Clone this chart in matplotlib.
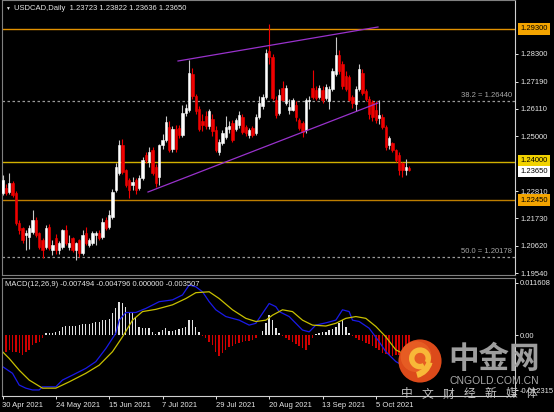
"""USDCAD daily candles with MACD pane, MetaTrader-style dark chart."""

import matplotlib
matplotlib.use("Agg")
import matplotlib.pyplot as plt
import numpy as np
from matplotlib.patches import Circle, Wedge
from matplotlib.transforms import blended_transform_factory

plt.rcParams["font.family"] = ["Liberation Sans", "DejaVu Sans"]

W, H = 554, 412

DATES = ["30 Apr 2021", "24 May 2021", "15 Jun 2021", "7 Jul 2021",
         "29 Jul 2021", "20 Aug 2021", "13 Sep 2021", "5 Oct 2021"]
DATE_BARS = [0, 16, 32, 48, 64, 80, 96, 112]

OPEN = [1.2274, 1.2294, 1.2278, 1.2314, 1.2274, 1.2154, 1.2134, 1.2106, 1.2098, 1.2118,
        1.2166, 1.2114, 1.2086, 1.2058, 1.2138, 1.2046, 1.2094, 1.2046, 1.2058, 1.2126,
        1.2058, 1.2094, 1.2046, 1.2086, 1.2034, 1.2114, 1.2066, 1.2074, 1.2106, 1.2114,
        1.2098, 1.2166, 1.2138, 1.2178, 1.2286, 1.2354, 1.2466, 1.2366, 1.2326, 1.2306,
        1.2326, 1.2294, 1.2334, 1.2426, 1.2398, 1.2446, 1.2378, 1.2338, 1.2466, 1.2486,
        1.2538, 1.2450, 1.2530, 1.2534, 1.2506, 1.2594, 1.2606, 1.2750, 1.2660, 1.2610,
        1.2560, 1.2580, 1.2540, 1.2570, 1.2526, 1.2438, 1.2475, 1.2498, 1.2530, 1.2554,
        1.2530, 1.2546, 1.2578, 1.2538, 1.2506, 1.2534, 1.2514, 1.2578, 1.2620, 1.2658,
        1.2840, 1.2818, 1.2646, 1.2594, 1.2694, 1.2634, 1.2606, 1.2606, 1.2626, 1.2566,
        1.2554, 1.2526, 1.2640, 1.2694, 1.2686, 1.2658, 1.2686, 1.2654, 1.2640, 1.2690,
        1.2750, 1.2826, 1.2790, 1.2740, 1.2738, 1.2658, 1.2630, 1.2690, 1.2754, 1.2680,
        1.2650, 1.2638, 1.2606, 1.2572, 1.2578, 1.2538, 1.2466, 1.2474, 1.2446, 1.2426,
        1.2394, 1.2366, 1.23723]
HIGH = [1.2346, 1.2310, 1.2355, 1.2322, 1.2282, 1.2166, 1.2140, 1.2126, 1.2146, 1.2206,
        1.2180, 1.2120, 1.2095, 1.2146, 1.2150, 1.2086, 1.2110, 1.2082, 1.2130, 1.2146,
        1.2106, 1.2100, 1.2080, 1.2090, 1.2126, 1.2140, 1.2094, 1.2122, 1.2122, 1.2126,
        1.2174, 1.2178, 1.2206, 1.2290, 1.2395, 1.2486, 1.2490, 1.2370, 1.2335, 1.2340,
        1.2334, 1.2346, 1.2420, 1.2440, 1.2460, 1.2458, 1.2390, 1.2470, 1.2510, 1.2580,
        1.2560, 1.2540, 1.2545, 1.2545, 1.2626, 1.2630, 1.2806, 1.2775, 1.2670, 1.2620,
        1.2590, 1.2600, 1.2610, 1.2590, 1.2540, 1.2490, 1.2525, 1.2580, 1.2560, 1.2565,
        1.2575, 1.2600, 1.2590, 1.2545, 1.2535, 1.2540, 1.2590, 1.2660, 1.2670, 1.2850,
        1.2950, 1.2830, 1.2660, 1.2690, 1.2720, 1.2705, 1.2650, 1.2655, 1.2640, 1.2575,
        1.2560, 1.2655, 1.2660, 1.2766, 1.2700, 1.2706, 1.2700, 1.2710, 1.2700, 1.2775,
        1.2898, 1.2846, 1.2800, 1.2760, 1.2745, 1.2665, 1.2700, 1.2790, 1.2770, 1.2690,
        1.2660, 1.2648, 1.2640, 1.2646, 1.2590, 1.2545, 1.2500, 1.2480, 1.2450, 1.2440,
        1.2400, 1.2410, 1.23822]
LOW = [1.2266, 1.2266, 1.2270, 1.2258, 1.2146, 1.2110, 1.2075, 1.2046, 1.2050, 1.2110,
       1.2100, 1.2050, 1.2016, 1.2050, 1.2046, 1.2026, 1.2030, 1.2030, 1.2050, 1.2066,
       1.2046, 1.2040, 1.2006, 1.2020, 1.2026, 1.2066, 1.2058, 1.2066, 1.2066, 1.2086,
       1.2090, 1.2126, 1.2130, 1.2170, 1.2280, 1.2346, 1.2350, 1.2300, 1.2254, 1.2286,
       1.2270, 1.2286, 1.2328, 1.2395, 1.2380, 1.2346, 1.2300, 1.2306, 1.2450, 1.2480,
       1.2440, 1.2440, 1.2440, 1.2495, 1.2498, 1.2580, 1.2598, 1.2650, 1.2590, 1.2520,
       1.2520, 1.2530, 1.2530, 1.2500, 1.2440, 1.2426, 1.2465, 1.2490, 1.2515, 1.2478,
       1.2520, 1.2535, 1.2510, 1.2500, 1.2495, 1.2498, 1.2505, 1.2570, 1.2610, 1.2650,
       1.2790, 1.2645, 1.2575, 1.2585, 1.2640, 1.2625, 1.2590, 1.2600, 1.2560, 1.2525,
       1.2498, 1.2515, 1.2610, 1.2650, 1.2645, 1.2650, 1.2635, 1.2645, 1.2610, 1.2680,
       1.2740, 1.2750, 1.2690, 1.2680, 1.2640, 1.2615, 1.2600, 1.2680, 1.2665, 1.2640,
       1.2570, 1.2560, 1.2555, 1.2550, 1.2530, 1.2445, 1.2450, 1.2440, 1.2400, 1.2345,
       1.2338, 1.2346, 1.23636]
CLOSE = [1.2326, 1.2274, 1.2314, 1.2266, 1.2154, 1.2126, 1.2086, 1.2114, 1.2134, 1.2166,
         1.2106, 1.2058, 1.2046, 1.2134, 1.2054, 1.2066, 1.2046, 1.2074, 1.2126, 1.2074,
         1.2074, 1.2046, 1.2074, 1.2034, 1.2106, 1.2074, 1.2086, 1.2114, 1.2114, 1.2094,
         1.2158, 1.2134, 1.2186, 1.2278, 1.2378, 1.2466, 1.2358, 1.2306, 1.2286, 1.2318,
         1.2286, 1.2334, 1.2406, 1.2406, 1.2438, 1.2354, 1.2314, 1.2466, 1.2486, 1.2558,
         1.2446, 1.2530, 1.2450, 1.2506, 1.2594, 1.2614, 1.2754, 1.2660, 1.2600, 1.2530,
         1.2545, 1.2540, 1.2600, 1.2520, 1.2446, 1.2478, 1.2514, 1.2538, 1.2542, 1.2486,
         1.2566, 1.2586, 1.2518, 1.2514, 1.2526, 1.2506, 1.2578, 1.2634, 1.2658, 1.2834,
         1.2818, 1.2654, 1.2586, 1.2666, 1.2646, 1.2694, 1.2618, 1.2646, 1.2578, 1.2534,
         1.2518, 1.2646, 1.2646, 1.2658, 1.2654, 1.2694, 1.2646, 1.2698, 1.2690, 1.2760,
         1.2826, 1.2760, 1.2700, 1.2690, 1.2646, 1.2634, 1.2690, 1.2770, 1.2674, 1.2650,
         1.2590, 1.2578, 1.2566, 1.2586, 1.2538, 1.2458, 1.2494, 1.2446, 1.2406, 1.2366,
         1.2366, 1.2376, 1.23650]

# MACD pane, values in units of 1e-3
HIST = [-4.07, -3.70, -3.33, -3.70, -3.70, -4.07, -4.44, -3.70, -3.33, -2.22,
        -1.85, -1.48, -0.74, 0.37, 0.52, 0.52, 0.74, 0.96, 1.70, 2.00,
        2.07, 2.07, 2.00, 2.15, 2.37, 2.37, 2.44, 2.59, 2.81, 2.96,
        3.33, 3.33, 3.48, 4.81, 5.92, 7.40, 7.03, 6.29, 5.18, 4.81,
        4.07, 1.85, 1.48, 1.48, 1.63, 0.74, 0.15, 0.74, 1.11, 1.48,
        0.89, 0.89, 1.11, 1.26, 1.48, 1.85, 3.33, 3.33, 1.85, 0.74,
        -0.22, -0.74, -1.48, -2.22, -3.70, -4.66, -4.07, -3.33, -2.74, -2.44,
        -2.00, -1.70, -1.48, -1.33, -1.26, -1.11, -0.74, 0.10, 0.96, 2.59,
        4.44, 3.33, 1.48, 0.37, -0.22, -0.74, -1.11, -1.48, -2.00, -2.44,
        -2.96, -3.33, -2.22, -0.74, 0.22, 0.52, 0.74, 0.74, 1.11, 1.26,
        1.85, 2.59, 3.33, 1.85, 0.52, -0.22, -0.74, -1.11, -1.26, -1.70,
        -2.00, -2.44, -2.96, -3.33, -3.92, -4.22, -4.44, -4.66, -4.44, -4.44,
        -4.44, -4.44, -3.51]
MACD_BARS = [0, 3, 5, 7, 9, 11, 12, 16, 18, 21, 25, 28, 31, 34, 35, 37, 40, 43, 47, 51,
             54, 56, 58, 60, 62, 64, 67, 71, 74, 76, 78, 80, 82, 83, 86, 88, 90, 92, 94,
             97, 100, 102, 104, 105, 107, 110, 113, 115, 118, 122]
MACD_VALS = [-7.0, -8.5, -11.1, -11.8, -12.2, -12.2, -11.5, -11.5, -10.0, -8.9, -7.4,
             -5.9, -3.0, 0.4, 3.3, 5.0, 5.0, 5.9, 7.4, 7.8, 8.9, 11.1, 10.7, 9.6, 7.4,
             5.6, 4.1, 3.3, 2.2, 2.6, 4.8, 7.0, 6.3, 5.2, 4.1, 2.6, 1.1, 0.7, 2.2, 2.7,
             3.3, 5.6, 5.2, 3.3, 3.0, 1.5, -1.5, -3.7, -5.9, -7.49]
SIGNAL_BARS = [0, 2, 5, 8, 12, 16, 20, 25, 29, 33, 36, 39, 42, 46, 51, 55, 58, 62, 65,
               69, 73, 76, 79, 81, 84, 87, 90, 93, 97, 100, 103, 106, 109, 112, 115, 118,
               122]
SIGNAL_VALS = [-3.7, -5.2, -7.8, -10.0, -11.8, -11.8, -10.4, -8.5, -6.7, -3.7, -0.4, 3.3,
               5.2, 5.7, 6.7, 8.1, 9.4, 9.6, 8.1, 5.6, 3.7, 3.0, 3.3, 4.4, 5.6, 5.2, 3.3,
               2.2, 2.0, 2.6, 3.7, 4.1, 3.7, 1.9, -0.4, -3.3, -4.8]

PRICE_TICKS = [1.28300, 1.27190, 1.26110, 1.25000, 1.22810, 1.21730, 1.20620, 1.19540]
LEVELS = [1.29300, 1.24000, 1.22450]
LAST_PRICE = 1.23650
FIB_LEVELS = [("38.2", 1.26440), ("50.0", 1.20178)]
TREND_UPPER = ([52.65, 112.65], [1.2802, 1.2938])
TREND_LOWER = ([43.65, 112.65], [1.2278, 1.2634])

RED = "#F00000"
GRAY = "#808080"
TXT = "#E6E6E6"
LEVEL_COLORS = ["#E39200", "#D2B000", "#BE7E00"]
LEVEL_BOXES = ["#F3A400", "#F2D200", "#F3A400"]
FS = 5.5


def px_box(left, top, right, bottom):
    return [left / W, 1 - bottom / H, (right - left) / W, (bottom - top) / H]


def style_pane(ax):
    ax.set_facecolor("black")
    for side in ("left", "top", "bottom"):
        ax.spines[side].set_color(GRAY)
    ax.spines["right"].set_color("#D0D0D0")
    ax.yaxis.tick_right()
    ax.tick_params(axis="y", colors=TXT, labelsize=FS, length=2.2, width=0.7, pad=1.5)
    ax.set_xlim(-0.15, 153.75)


def draw_candles(ax):
    o, h, l, c = (np.asarray(v) for v in (OPEN, HIGH, LOW, CLOSE))
    x = np.arange(len(o))
    up = c >= o
    ax.vlines(x, l, h, colors=np.where(up, "#C8C8C8", RED), lw=0.8, zorder=3)
    body_col = np.where(up, "white", RED)
    ax.bar(x, np.abs(c - o), bottom=np.minimum(o, c), width=0.62,
           color=body_col, edgecolor=body_col, linewidth=0.4, zorder=4)


def draw_logo(fig):
    lax = fig.add_axes(px_box(398, 339, 442, 383), zorder=10)
    lax.set_xlim(-1, 1)
    lax.set_ylim(-1, 1)
    lax.axis("off")
    lax.add_patch(Circle((0, 0), 0.98, fc="#DC4A1A", ec="none"))
    lax.add_patch(Circle((-0.18, 0.2), 0.7, fc="#F06C2C", ec="none", alpha=0.55))
    lax.add_patch(Wedge((0.0, 0.12), 0.5, -30, 300, width=0.25, fc="#F8B838", ec="none"))
    lax.add_patch(Wedge((-0.35, 0.15), 0.95, 285, 345, width=0.28, fc="#F8B838", ec="none"))


def main():
    fig = plt.figure(figsize=(W / 100, H / 100), dpi=100, facecolor="black")

    # price pane
    ax = fig.add_axes(px_box(2, 0, 515, 275))
    style_pane(ax)
    ax.set_ylim(1.1946, 1.3046)
    ax.set_xticks([])
    ax.set_yticks(PRICE_TICKS)
    ax.set_yticklabels([f"{v:.5f}" for v in PRICE_TICKS])

    for lvl, col in zip(LEVELS, LEVEL_COLORS):
        ax.axhline(lvl, color=col, lw=1.0, zorder=2)
    for name, lvl in FIB_LEVELS:
        ax.axhline(lvl, color="#9A9A9A", lw=0.9, linestyle=(0, (2, 2)), zorder=2)
        ax.annotate(f"{name} = {lvl:.5f}", xy=(1, lvl),
                    xycoords=("axes fraction", "data"), xytext=(-2, 1.2),
                    textcoords="offset points", ha="right", va="bottom",
                    fontsize=FS, color="#A8A8A8")

    ax.plot(*TREND_UPPER, color="#9932CC", lw=0.9, zorder=5)
    ax.plot(*TREND_LOWER, color="#9932CC", lw=0.9, zorder=5)
    draw_candles(ax)

    trans = blended_transform_factory(ax.transAxes, ax.transData)
    boxes = list(zip(LEVELS, LEVEL_BOXES)) + [(LAST_PRICE, "white")]
    shifts = {LEVELS[1]: 0.7, LAST_PRICE: -0.9}
    for lvl, fc in boxes:
        ax.annotate(f"{lvl:.5f}", xy=(1.0, lvl), xycoords=trans,
                    xytext=(4, shifts.get(lvl, 0)), textcoords="offset points",
                    ha="left", va="center", fontsize=FS, color="black", zorder=8,
                    annotation_clip=False,
                    bbox=dict(boxstyle="square,pad=0.3", fc=fc, ec="none"))

    # MACD pane
    mx = fig.add_axes(px_box(2, 278, 515, 396))
    style_pane(mx)
    mx.spines["bottom"].set_color("#D0D0D0")
    mx.set_ylim(-13.54, 12.66)
    mx.set_yticks([11.608, 0.0, -12.315])
    mx.set_yticklabels(["0.011608", "0.00", "-0.012315"])
    hist = np.asarray(HIST)
    mx.bar(np.arange(len(hist)), hist, width=0.4,
           color=np.where(hist >= 0, "#E2E2E2", "#D00000"), linewidth=0)
    mx.plot(MACD_BARS, MACD_VALS, color="#1A1AE8", lw=0.9)
    mx.plot(SIGNAL_BARS, SIGNAL_VALS, color="#C8C000", lw=0.9)
    mx.set_xticks(DATE_BARS)
    mx.set_xticklabels(DATES)
    mx.tick_params(axis="x", colors=TXT, labelsize=FS, length=2.5, width=0.7, pad=1.5)
    for lbl in mx.get_xticklabels():
        lbl.set_horizontalalignment("left")

    fig.text(5 / W, 1 - 8 / H, "▼", fontsize=3.5, color=TXT, va="center")
    fig.text(14 / W, 1 - 8 / H, "USDCAD,Daily  1.23723 1.23822 1.23636 1.23650",
             fontsize=FS, color=TXT, va="center")
    fig.text(5 / W, 1 - 284 / H, "MACD(12,26,9) -0.007494 -0.004796 0.000000 -0.003507",
             fontsize=FS, color=TXT, va="center")

    # watermark
    draw_logo(fig)
    cjk = ["Noto Sans CJK SC", "DejaVu Sans"]
    fig.text(494 / W, 1 - 359 / H, "中金网", fontsize=22, fontweight="bold",
             color="#9E9E9E", ha="center", va="center", family=cjk, zorder=10)
    fig.text(494 / W, 1 - 381 / H, "CNGOLD.COM.CN", fontsize=7.5, color="#A8A8A8",
             ha="center", va="center", zorder=10)
    for k, ch in enumerate("中文财经新媒体"):
        fig.text((407 + 20.8 * k) / W, 1 - 394 / H, ch, fontsize=8.5, color="#C4C4C4",
                 ha="center", va="center", family=cjk, zorder=10)

    fig.savefig("out.png", dpi=100, facecolor="black")


if __name__ == "__main__":
    main()
